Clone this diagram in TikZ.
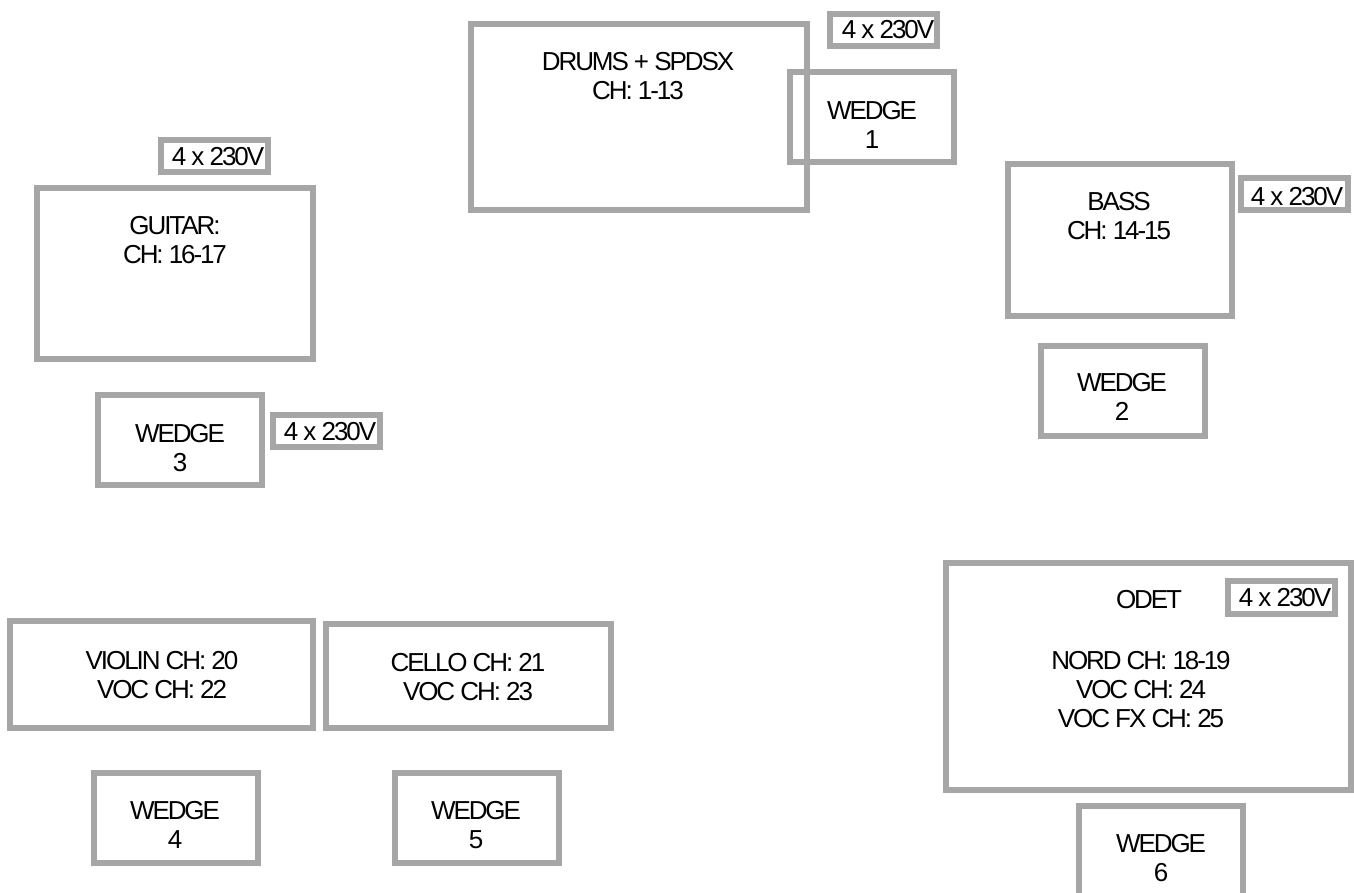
\documentclass[tikz,border=0pt]{standalone}
\usepackage{fontspec}
\setmainfont{Liberation Sans}[LetterSpace=-8]
\definecolor{boxgray}{HTML}{A6A6A6}
\begin{document}
\begin{tikzpicture}[x=1pt,y=-1pt,
  box/.style={draw=boxgray,line width=6pt,fill=none,inner sep=0pt,outer sep=0pt,rectangle},
  wedgebox/.style={box,minimum width=164pt,minimum height=90pt},
  pwrbox/.style={box,minimum width=107pt,minimum height=32pt},
  lbl/.style={font=\fontsize{26}{29}\selectfont,align=center,inner sep=0pt,text=black}]
\useasboundingbox (0,0) rectangle (1354,892);
% boxes
\node[box,minimum width=336pt,minimum height=186pt] (drums) at (639,117) {};
\node[pwrbox] (pwr1) at (883,29.5) {};
\node[wedgebox] (w1) at (872,117) {};
\node[pwrbox] (pwrG) at (214.5,156) {};
\node[box,minimum width=276pt,minimum height=171pt] (guitar) at (175,273.5) {};
\node[wedgebox] (w3) at (180,439.5) {};
\node[pwrbox] (pwr3) at (326.5,430.5) {};
\node[box,minimum width=224pt,minimum height=152pt] (bass) at (1120,240) {};
\node[pwrbox] (pwrB) at (1294,194) {};
\node[wedgebox] (w2) at (1123,391) {};
\node[box,minimum width=405pt,minimum height=227pt] (odet) at (1148.5,676.5) {};
\node[pwrbox,minimum height=33pt] (pwrO) at (1281.5,597.5) {};
\node[wedgebox] (w6) at (1161,851) {};
\node[box,minimum width=303pt,minimum height=107pt] (violin) at (161.5,674.5) {};
\node[box,minimum width=285pt,minimum height=104pt] (cello) at (468.5,676) {};
\node[wedgebox] (w4) at (175.5,817.5) {};
\node[wedgebox] (w5) at (477,817.5) {};
% texts
\node[lbl] (tdrums) at (638,76) {DRUMS + SPDSX\\CH: 1-13};
\node[lbl] (tp1) at (888,30) {4 x 230V};
\node[lbl] (tw1) at (872,125) {WEDGE\\1};
\node[lbl] (tpG) at (218,157) {4 x 230V};
\node[lbl] (tguitar) at (175,240) {GUITAR:\\CH: 16-17};
\node[lbl] (tw3) at (180,448) {WEDGE\\3};
\node[lbl] (tp3) at (330,432) {4 x 230V};
\node[lbl] (tbass) at (1119,216) {BASS\\CH: 14-15};
\node[lbl] (tpB) at (1297,197) {4 x 230V};
\node[lbl] (tw2) at (1122,397) {WEDGE\\2};
\node[lbl] (todet) at (1149,600) {ODET};
\node[lbl] (tpO) at (1285,598) {4 x 230V};
\node[lbl] (tnord) at (1141,690) {NORD CH: 18-19\\VOC CH: 24\\VOC FX CH: 25};
\node[lbl] (tw6) at (1161,858) {WEDGE\\6};
\node[lbl] (tviolin) at (162,675) {VIOLIN CH: 20\\VOC CH: 22};
\node[lbl] (tcello) at (468,677) {CELLO CH: 21\\VOC CH: 23};
\node[lbl] (tw4) at (175,825) {WEDGE\\4};
\node[lbl] (tw5) at (476,825) {WEDGE\\5};
\end{tikzpicture}
\end{document}
